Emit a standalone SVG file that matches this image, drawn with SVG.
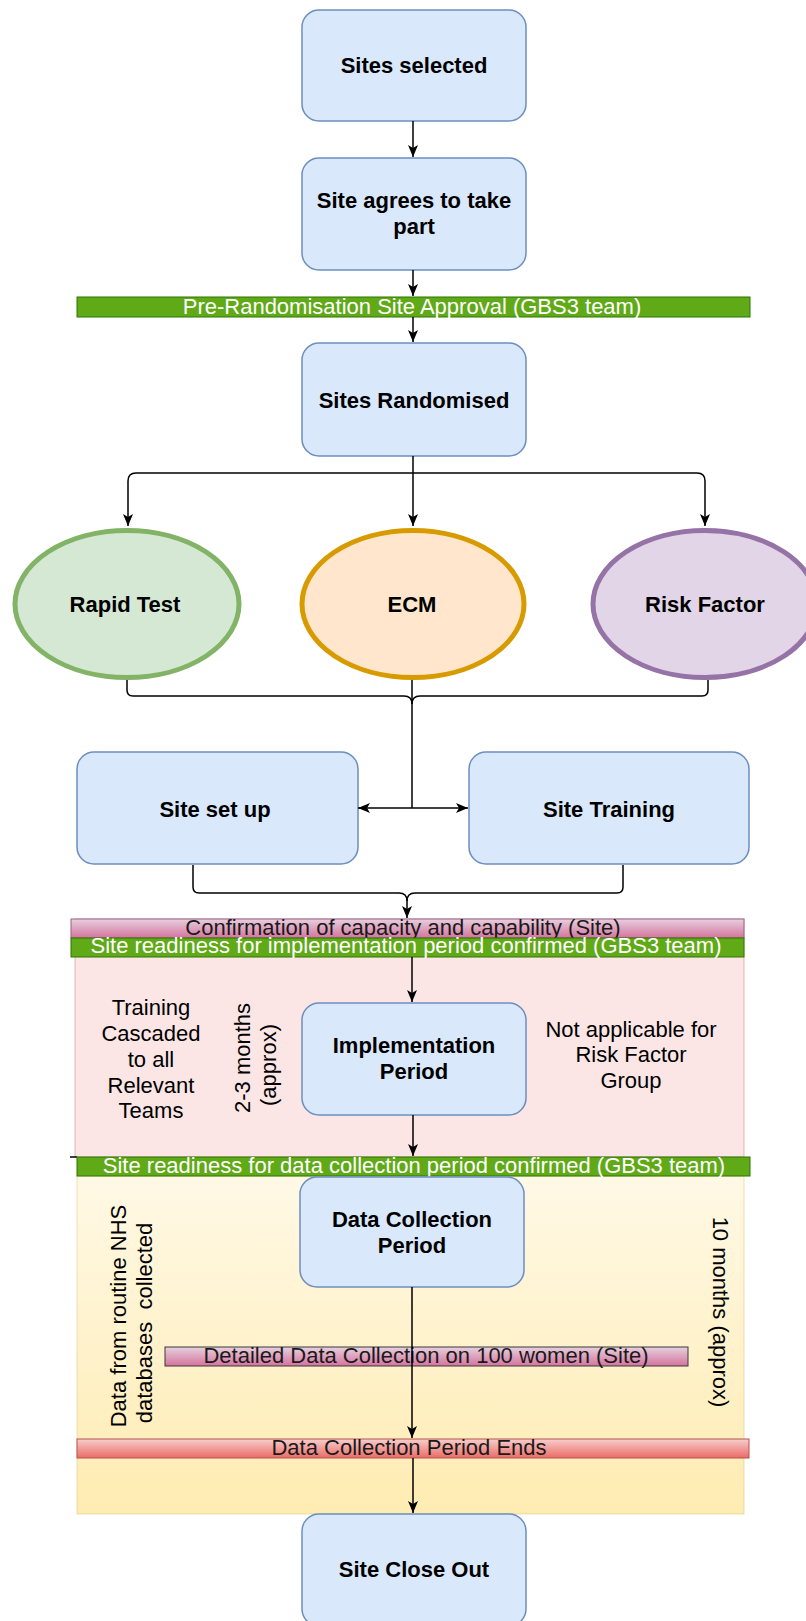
<svg xmlns="http://www.w3.org/2000/svg" width="806" height="1621" viewBox="0 0 806 1621">
<defs>
<style>
text{font-family:"Liberation Sans",Arial,Helvetica,sans-serif;font-size:22px;fill:#000}
.b{font-weight:bold;text-anchor:middle}
.c{text-anchor:middle}
.w{fill:#fff;text-anchor:middle}
.d{fill:#1a1a1a;text-anchor:middle}
.box{fill:#dae8fc;stroke:#6c8ebf;stroke-width:1.5}
.green{fill:#60a917;stroke:#2d7600;stroke-width:1}
.pink{fill:url(#pinkG);stroke:#996185;stroke-width:1}
.red{fill:url(#redG);stroke:#b85450;stroke-width:1}
.ln{fill:none;stroke:#000;stroke-width:1.5}
.arr{marker-end:url(#ah)}
</style>
<linearGradient id="pinkG" x1="0" y1="0" x2="0" y2="1"><stop offset="0" stop-color="#e6d0de"/><stop offset="1" stop-color="#d5739d"/></linearGradient>
<linearGradient id="redG" x1="0" y1="0" x2="0" y2="1"><stop offset="0" stop-color="#f8cecc"/><stop offset="1" stop-color="#ea6b66"/></linearGradient>
<linearGradient id="yelG" x1="0" y1="0" x2="0" y2="1"><stop offset="0" stop-color="#fff2cc"/><stop offset="1" stop-color="#ffd966"/></linearGradient>
<clipPath id="capClip"><rect x="71" y="914" width="673" height="24"/></clipPath>
<marker id="ah" markerUnits="userSpaceOnUse" markerWidth="12" markerHeight="10" refX="12" refY="5" orient="auto"><path d="M0,0 L12,5 L0,10 L3,5 z" fill="#000"/></marker>
</defs>

<g id="implementation-region"><rect x="75" y="919" width="669" height="238" fill="#f8cecc" fill-opacity="0.5" stroke="#b85450" stroke-opacity="0.4" stroke-width="1"/><path d="M70 1157 H77" stroke="#000" stroke-width="1.5"/></g>
<g id="datacollection-region"><rect x="77" y="1176" width="667" height="338" fill="url(#yelG)" fill-opacity="0.5" stroke="#d6b656" stroke-opacity="0.4" stroke-width="1"/></g>

<g id="sites-selected"><rect class="box" x="302" y="10" width="224" height="111" rx="17"/><text class="b" x="414" y="73">Sites selected</text></g>
<g id="site-agrees"><rect class="box" x="302" y="158" width="224" height="112" rx="17"/><text class="b" x="414" y="208">Site agrees to take</text><text class="b" x="414" y="234">part</text></g>
<g id="pre-randomisation"><rect class="green" x="77" y="297" width="673" height="20"/><text class="w" x="412" y="314">Pre-Randomisation Site Approval (GBS3 team)</text></g>
<g id="sites-randomised"><rect class="box" x="302" y="343" width="224" height="113" rx="17"/><text class="b" x="414" y="408">Sites Randomised</text></g>

<g id="rapid-test"><ellipse cx="127" cy="604" rx="112" ry="73.5" fill="#d5e8d4" stroke="#82b366" stroke-width="5"/><text class="b" x="125" y="612">Rapid Test</text></g>
<g id="ecm"><ellipse cx="413" cy="604" rx="111" ry="73.5" fill="#ffe6cc" stroke="#d79b00" stroke-width="5"/><text class="b" x="412" y="612">ECM</text></g>
<g id="risk-factor"><ellipse cx="705" cy="604" rx="112" ry="73.5" fill="#e1d5e7" stroke="#9673a6" stroke-width="5"/><text class="b" x="705" y="612">Risk Factor</text></g>

<g id="site-set-up"><rect class="box" x="77" y="752" width="281" height="112" rx="17"/><text class="b" x="215" y="817">Site set up</text></g>
<g id="site-training"><rect class="box" x="469" y="752" width="280" height="112" rx="17"/><text class="b" x="609" y="817">Site Training</text></g>

<g id="capacity-capability"><rect class="pink" x="71" y="919" width="673" height="19"/><text class="d" x="403" y="935" clip-path="url(#capClip)">Confirmation of capacity and capability (Site)</text></g>
<g id="readiness-implementation"><rect class="green" x="71" y="938" width="673" height="19"/><text class="w" x="406" y="953">Site readiness for implementation period confirmed (GBS3 team)</text></g>

<g id="training-cascaded"><text class="c" x="151" y="1015">Training</text><text class="c" x="151" y="1041">Cascaded</text><text class="c" x="151" y="1067">to all</text><text class="c" x="151" y="1093">Relevant</text><text class="c" x="151" y="1118">Teams</text></g>
<g id="two-three-months"><text class="c" transform="translate(250,1058) rotate(-90)">2-3 months</text><text class="c" transform="translate(276,1065) rotate(-90)">(approx)</text></g>
<g id="implementation-period"><rect class="box" x="302" y="1003" width="224" height="112" rx="17"/><text class="b" x="414" y="1053">Implementation</text><text class="b" x="414" y="1079">Period</text></g>
<g id="not-applicable"><text class="c" x="631" y="1037">Not applicable for</text><text class="c" x="631" y="1062">Risk Factor</text><text class="c" x="631" y="1088">Group</text></g>

<g id="readiness-data-collection"><rect class="green" x="77" y="1157" width="673" height="19"/><text class="w" x="414" y="1173">Site readiness for data collection period confirmed (GBS3 team)</text></g>
<g id="data-collection-period"><rect class="box" x="300" y="1177" width="224" height="110" rx="17"/><text class="b" x="412" y="1227">Data Collection</text><text class="b" x="412" y="1253">Period</text></g>
<g id="nhs-data"><text class="c" transform="translate(126,1316) rotate(-90)">Data from routine NHS</text><text class="c" transform="translate(152,1323) rotate(-90)">databases&#160; collected</text></g>
<g id="ten-months"><text class="c" transform="translate(713,1312) rotate(90)">10 months (approx)</text></g>
<g id="detailed-data"><rect class="pink" x="165" y="1347" width="523" height="19" style="stroke:#36393d"/><text class="d" x="426" y="1363">Detailed Data Collection on 100 women (Site)</text></g>
<g id="period-ends"><rect class="red" x="77" y="1439" width="672" height="19"/><text class="d" x="409" y="1455">Data Collection Period Ends</text></g>
<g id="site-close-out"><rect class="box" x="302" y="1514" width="224" height="112" rx="17"/><text class="b" x="414" y="1577">Site Close Out</text></g>

<g id="connectors">
<path class="ln arr" d="M413 121 V157"/>
<path class="ln arr" d="M413 270 V296"/>
<path class="ln arr" d="M413 317 V342"/>
<path class="ln arr" d="M413 456 V526"/>
<path class="ln arr" d="M413 473 H136 Q128 473 128 481 V526"/>
<path class="ln arr" d="M413 473 H697 Q705 473 705 481 V526"/>
<path class="ln" d="M127 680 V690 Q127 696 133 696 H404 Q412 696 412 704"/>
<path class="ln" d="M708 680 V690 Q708 696 702 696 H420 Q412 696 412 704"/>
<path class="ln" d="M412 680 V808"/>
<path class="ln arr" d="M412 808 H358"/>
<path class="ln arr" d="M412 808 H468"/>
<path class="ln" d="M193 865 V887 Q193 893 199 893 H399 Q407 893 407 901"/>
<path class="ln arr" d="M623 865 V887 Q623 893 617 893 H415 Q407 893 407 901 V918"/>
<path class="ln arr" d="M412 957 V1002"/>
<path class="ln arr" d="M413 1115 V1156"/>
<path class="ln arr" d="M412 1287 V1438"/>
<path class="ln arr" d="M413 1458 V1513"/>
</g>
</svg>
